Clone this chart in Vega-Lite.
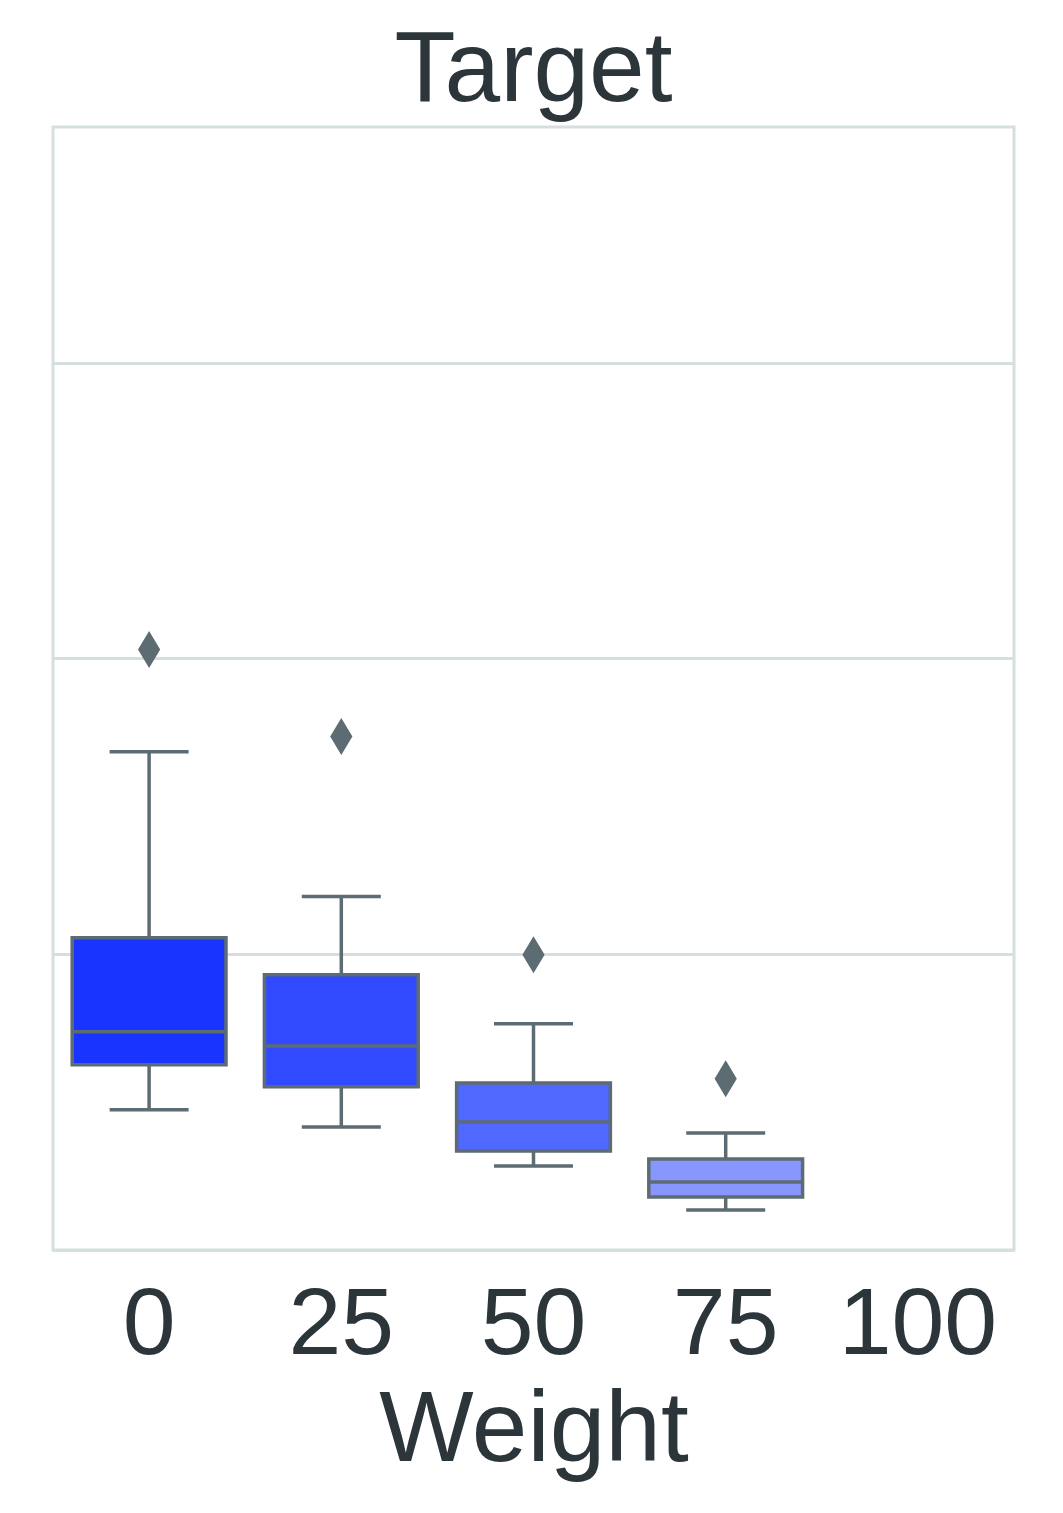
{
  "$schema": "https://vega.github.io/schema/vega-lite/v6.json",
  "width": 961,
  "height": 1123,
  "autosize": "none",
  "padding": {"left": 53, "top": 127, "right": 49, "bottom": 263},
  "background": "white",
  "config": {
    "view": {"stroke": "#d6dfdf", "strokeWidth": 3},
    "font": "Liberation Sans"
  },
  "title": {
    "text": "Target",
    "fontSize": 100,
    "font": "Liberation Sans",
    "fontWeight": "normal",
    "color": "#2c353a",
    "baseline": "alphabetic",
    "offset": 25,
    "dy": 99,
    "anchor": "middle"
  },
  "datasets": {
    "boxes": [
      {"weight": 0, "lower": 0.474, "q1": 0.626, "median": 0.738, "q3": 1.056, "upper": 1.685},
      {"weight": 25, "lower": 0.416, "q1": 0.552, "median": 0.690, "q3": 0.931, "upper": 1.195},
      {"weight": 50, "lower": 0.284, "q1": 0.335, "median": 0.433, "q3": 0.565, "upper": 0.765},
      {"weight": 75, "lower": 0.135, "q1": 0.179, "median": 0.230, "q3": 0.308, "upper": 0.396}
    ],
    "outliers": [
      {"weight": 0, "value": 2.030},
      {"weight": 25, "value": 1.736},
      {"weight": 50, "value": 0.998},
      {"weight": 75, "value": 0.579}
    ]
  },
  "encoding": {
    "x": {
      "field": "weight",
      "type": "ordinal",
      "scale": {"type": "band", "domain": [0, 25, 50, 75, 100], "paddingInner": 0, "paddingOuter": 0},
      "axis": {
        "title": "Weight",
        "titleFontSize": 100,
        "titleFont": "Liberation Sans",
        "titleFontWeight": "normal",
        "titleColor": "#2c353a",
        "titleBaseline": "alphabetic",
        "titleY": 210,
        "titleX": 480.5,
        "labelFontSize": 95,
        "labelFont": "Liberation Sans",
        "labelColor": "#2c353a",
        "labelBaseline": "alphabetic",
        "labelPadding": 103,
        "labelAngle": 0,
        "ticks": false,
        "tickSize": 0,
        "domain": false,
        "grid": false
      }
    }
  },
  "layer": [
    {
      "data": {"name": "boxes"},
      "mark": {"type": "rule", "color": "#5d6b72", "strokeWidth": 3.5},
      "encoding": {
        "y": {
          "field": "lower",
          "type": "quantitative",
          "scale": {"domain": [0, 3.797], "nice": false, "zero": false},
          "axis": {
            "title": null,
            "labels": false,
            "ticks": false,
            "domain": false,
            "grid": true,
            "gridColor": "#d6dfdf",
            "gridWidth": 3,
            "values": [0, 1, 2, 3]
          }
        },
        "y2": {"field": "upper"}
      }
    },
    {
      "data": {"name": "boxes"},
      "mark": {"type": "bar", "width": {"band": 0.8}, "stroke": "#5d6b72", "strokeWidth": 3.5},
      "encoding": {
        "y": {"field": "q1", "type": "quantitative"},
        "y2": {"field": "q3"},
        "color": {
          "field": "weight",
          "type": "ordinal",
          "scale": {"domain": [0, 25, 50, 75], "range": ["#1934ff", "#3149ff", "#5068ff", "#8797ff"]},
          "legend": null
        }
      }
    },
    {
      "data": {"name": "boxes"},
      "mark": {"type": "tick", "color": "#5d6b72", "size": 155, "thickness": 3.5, "orient": "horizontal", "opacity": 1},
      "encoding": {"y": {"field": "median", "type": "quantitative"}}
    },
    {
      "data": {"name": "boxes"},
      "mark": {"type": "tick", "color": "#5d6b72", "size": 79, "thickness": 3.5, "orient": "horizontal", "opacity": 1},
      "encoding": {"y": {"field": "lower", "type": "quantitative"}}
    },
    {
      "data": {"name": "boxes"},
      "mark": {"type": "tick", "color": "#5d6b72", "size": 79, "thickness": 3.5, "orient": "horizontal", "opacity": 1},
      "encoding": {"y": {"field": "upper", "type": "quantitative"}}
    },
    {
      "data": {"name": "outliers"},
      "mark": {"type": "point", "filled": true, "opacity": 1, "color": "#5d6b72", "shape": "M0,-1L0.6,0L0,1L-0.6,0Z", "size": 1369},
      "encoding": {"y": {"field": "value", "type": "quantitative"}}
    }
  ]
}
